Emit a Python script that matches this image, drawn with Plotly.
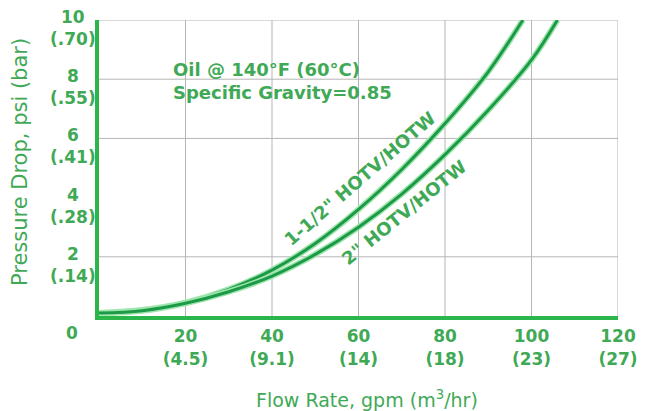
import plotly.graph_objects as go

# ---- data ----
flow_15 = [0, 10, 20, 30, 40, 50, 60, 70, 80, 90, 98]
dp_15 = [0.1, 0.2, 0.45, 0.9, 1.55, 2.45, 3.6, 4.95, 6.5, 8.25, 10.0]
flow_2 = [0, 10, 20, 30, 40, 50, 60, 70, 80, 90, 100, 106]
dp_2 = [0.1, 0.18, 0.43, 0.82, 1.35, 2.08, 3.0, 4.12, 5.45, 6.95, 8.65, 10.0]

x_tickvals = [20, 40, 60, 80, 100, 120]
x_ticktext = ["20<br>(4.5)", "40<br>(9.1)", "60<br>(14)", "80<br>(18)", "100<br>(23)", "120<br>(27)"]
y_tickvals = [2, 4, 6, 8, 10]
y_ticktext = ["2<br>(.14)", "4<br>(.28)", "6<br>(.41)", "8<br>(.55)", "10<br>(.70)"]
grid_x = [20, 40, 60, 80, 100, 120]
grid_y = [2, 6, 8, 10]

label_15 = '1-1/2" HOTV/HOTW'
label_2 = '2" HOTV/HOTW'
note = "Oil @ 140°F (60°C)<br>Specific Gravity=0.85"

GREEN_TXT = "#3fa956"
GREEN_AX = "#2bb64c"
GREEN_LINE = "#1d9a48"
HALO = "#9fe6ad"
FONT = "DejaVu Sans"

fig = go.Figure()
for fx, fy in [(flow_15, dp_15), (flow_2, dp_2)]:
    fig.add_trace(go.Scatter(x=fx, y=fy, mode="lines", line=dict(color=HALO, width=6, shape="spline"),
                             hoverinfo="skip", showlegend=False))
    fig.add_trace(go.Scatter(x=fx, y=fy, mode="lines", line=dict(color=GREEN_LINE, width=3, shape="spline"),
                             showlegend=False))

shapes = []
for gx in grid_x:
    shapes.append(dict(type="line", xref="x", yref="y", x0=gx, x1=gx, y0=0, y1=10,
                       line=dict(color="#b5b5b5", width=1), layer="below"))
for gy in grid_y:
    shapes.append(dict(type="line", xref="x", yref="y", x0=0, x1=120, y0=gy, y1=gy,
                       line=dict(color="#b5b5b5", width=1), layer="below"))

bold = dict(family=FONT, color=GREEN_TXT, weight="bold")
annotations = []
for v, t in zip(y_tickvals, y_ticktext):
    annotations.append(dict(xref="paper", yref="y", x=0, y=v, xshift=-26, yshift=-8,
                            text=t, showarrow=False, xanchor="center", yanchor="middle", align="center",
                            font=dict(size=17, **bold)))
annotations.append(dict(xref="paper", yref="paper", x=0, y=0, xshift=-27, yshift=-17, text="0",
                        showarrow=False, xanchor="center", yanchor="middle",
                        font=dict(size=17, **bold)))
annotations.append(dict(xref="paper", yref="paper", x=0, y=0.52, xshift=-79, text="Pressure Drop, psi (bar)",
                        textangle=-90, showarrow=False, xanchor="center", yanchor="middle",
                        font=dict(family=FONT, size=21, color=GREEN_TXT)))
annotations.append(dict(xref="paper", yref="paper", x=0.5, y=0, xshift=8, yshift=-83,
                        text="Flow Rate, gpm (m<sup>3</sup>/hr)", showarrow=False,
                        xanchor="center", yanchor="middle",
                        font=dict(family=FONT, size=19, color=GREEN_TXT)))
annotations.append(dict(xref="paper", yref="paper", x=0.138, y=0.875, text=note, showarrow=False,
                        xanchor="left", yanchor="top", align="left",
                        font=dict(size=18, **bold)))
annotations.append(dict(xref="x", yref="y", x=60.3, y=4.66, text=label_15, textangle=-41, showarrow=False,
                        xanchor="center", yanchor="middle", font=dict(size=18, **bold)))
annotations.append(dict(xref="x", yref="y", x=70.5, y=3.5, text=label_2, textangle=-39, showarrow=False,
                        xanchor="center", yanchor="middle", font=dict(size=18, **bold)))

fig.update_layout(
    width=650, height=411,
    margin=dict(l=99, r=22, t=20, b=95),
    paper_bgcolor="white", plot_bgcolor="white",
    shapes=shapes, annotations=annotations,
    xaxis=dict(range=[0, 120], tickvals=x_tickvals, ticktext=x_ticktext, showgrid=False, zeroline=False,
               showline=True, linecolor=GREEN_AX, linewidth=4, ticks="", ticklabelstandoff=2,
               tickfont=dict(size=17, **bold)),
    yaxis=dict(range=[0, 10], showticklabels=False, showgrid=False, zeroline=False,
               showline=True, linecolor=GREEN_AX, linewidth=4, ticks=""),
)

# remove the default 8px page margin so the 650x411 figure fills the window exactly
fig.write_html("out.html", config={"displayModeBar": False},
               post_script="document.body.style.margin='0';document.body.style.overflow='hidden';")
